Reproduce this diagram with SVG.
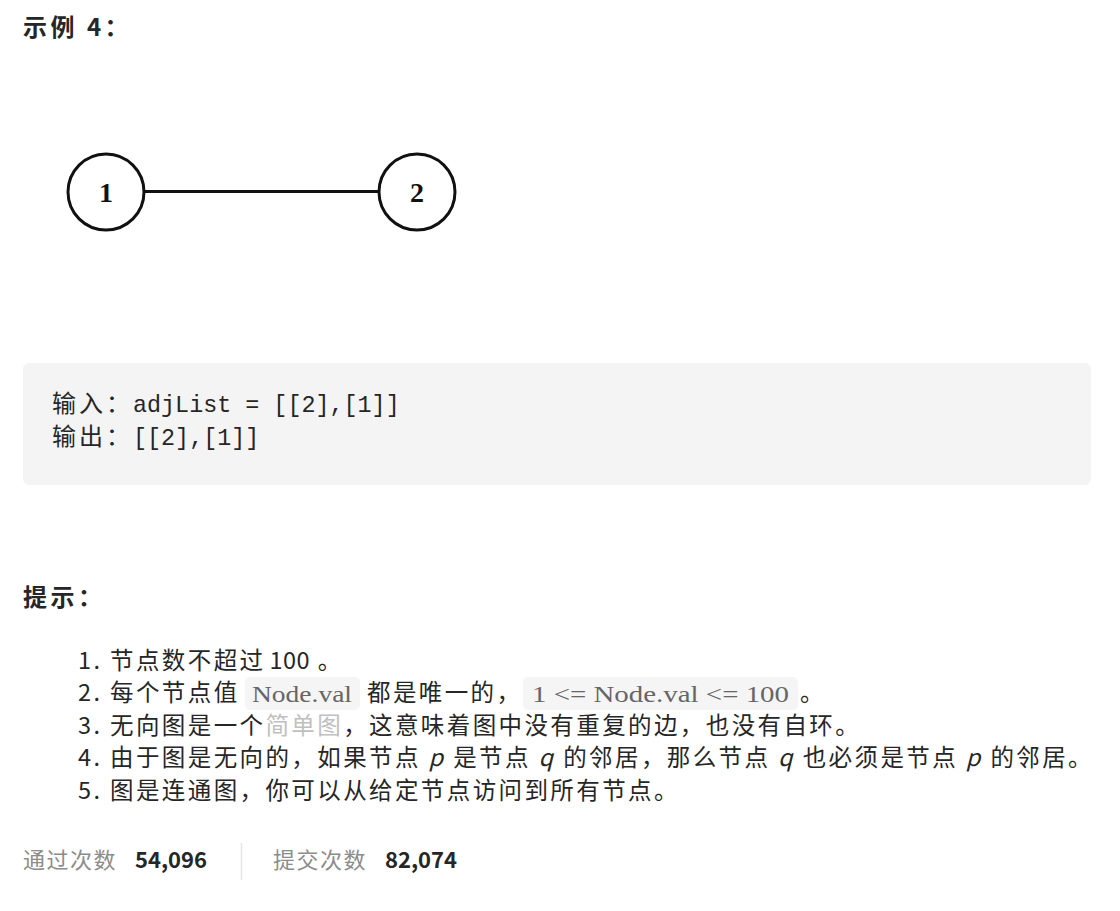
<svg xmlns="http://www.w3.org/2000/svg" width="1120" height="911" viewBox="0 0 1120 911">
<style>
.cjk{font-family:"Noto Sans CJK SC","Noto Sans",sans-serif;}
.h{font-size:24px;font-weight:bold;fill:#262626;letter-spacing:3.5px;}
.body{font-size:23.5px;fill:#262626;letter-spacing:2.4px;}
.lat{letter-spacing:0.5px;}
.mono{font-family:"Liberation Mono","DejaVu Sans Mono",monospace;font-size:23.4px;fill:#262626;}
.ic{font-family:"Liberation Serif","DejaVu Serif",serif;font-size:24px;fill:#666;}
.icbox{fill:#f5f5f5;}
.gray{fill:#8c8c8c;font-size:22px;letter-spacing:1.5px;}
.num{font-size:22px;font-weight:bold;fill:#262626;}
.node circle{fill:#fff;stroke:#111;stroke-width:3;}
.node text{font-family:"Liberation Serif","DejaVu Serif",serif;font-weight:bold;font-size:28px;fill:#111;text-anchor:middle;}
.edge{stroke:#111;stroke-width:3;}
</style>
<rect width="1120" height="911" fill="#fff"/>
<text class="cjk h" x="23" y="36">示例 4：</text>
<g id="connectors">
<line class="edge" x1="145" y1="191.5" x2="378" y2="191.5"/>
</g>
<g id="node1" class="node">
<circle cx="106" cy="192" r="38"/>
<text x="106" y="202">1</text>
</g>
<g id="node2" class="node">
<circle cx="417" cy="192" r="38"/>
<text x="417" y="202">2</text>
</g>
<rect x="23" y="363" width="1068" height="122" rx="6" fill="#f4f4f4"/>
<text class="cjk" x="52" y="412" font-size="24" fill="#262626" letter-spacing="3">输入：</text>
<text class="mono" x="133" y="412">adjList = [[2],[1]]</text>
<text class="cjk" x="52" y="445" font-size="24" fill="#262626" letter-spacing="3">输出：</text>
<text class="mono" x="133" y="445">[[2],[1]]</text>
<text class="cjk h" x="23" y="606">提示：</text>
<text class="cjk body" x="78" y="669">1. 节点数不超过<tspan class="lat" dx="4">100</tspan> 。</text>
<rect class="icbox" x="245" y="677" width="115" height="33" rx="5"/>
<rect class="icbox" x="523" y="677" width="275" height="33" rx="5"/>
<text class="cjk body" x="78" y="701">2. 每个节点值</text>
<text class="ic" x="252" y="702" textLength="100" lengthAdjust="spacingAndGlyphs">Node.val</text>
<text class="cjk body" x="367" y="701">都是唯一的，</text>
<text class="ic" x="532" y="702" textLength="257" lengthAdjust="spacingAndGlyphs">1 &lt;= Node.val &lt;= 100</text>
<text class="cjk body" x="800" y="701">。</text>
<text class="cjk body" x="78" y="734">3. 无向图是一个<tspan fill="#c0c0c0">简单图</tspan>，这意味着图中没有重复的边，也没有自环。</text>
<text class="cjk body" x="78" y="766">4. 由于图是无向的，如果节点 <tspan font-style="italic">p</tspan> 是节点 <tspan font-style="italic">q</tspan> 的邻居，那么节点 <tspan font-style="italic">q</tspan> 也必须是节点 <tspan font-style="italic">p</tspan> 的邻居。</text>
<text class="cjk body" x="78" y="799">5. 图是连通图，你可以从给定节点访问到所有节点。</text>
<text class="cjk gray" x="23" y="868">通过次数</text>
<text class="cjk num" x="135" y="868">54,096</text>
<line x1="241.5" y1="843" x2="241.5" y2="880" stroke="#e5e5e5" stroke-width="1.5"/>
<text class="cjk gray" x="273" y="868">提交次数</text>
<text class="cjk num" x="385" y="868">82,074</text>
</svg>
